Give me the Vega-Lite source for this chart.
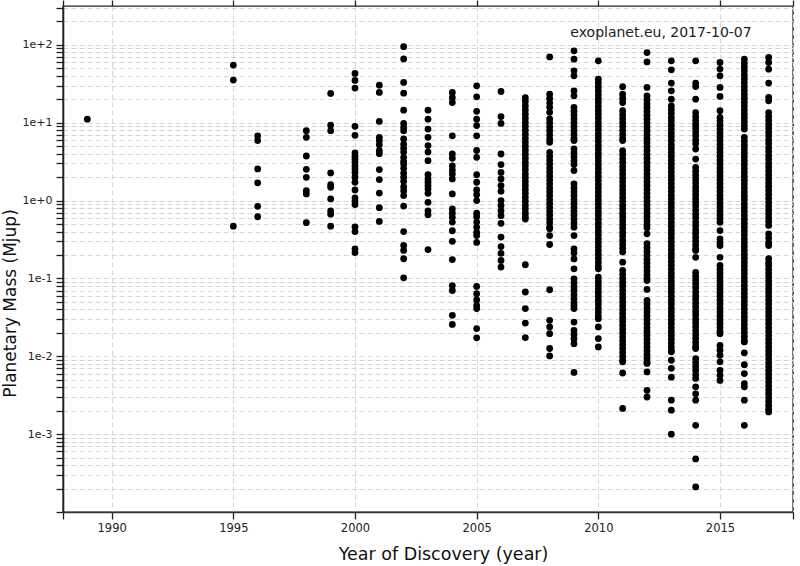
{
"$schema": "https://vega.github.io/schema/vega-lite/v6.json",
"autosize": "none",
"width": 730,
"height": 506,
"padding": {"left": 63, "top": 6, "right": 7, "bottom": 54},
"background": "white",
"config": {
  "font": "DejaVu Sans",
  "view": {"stroke": "#222", "strokeWidth": 1.4},
  "axis": {"labelFont": "DejaVu Sans", "titleFont": "DejaVu Sans", "labelColor": "#222", "titleColor": "#111", "titleFontWeight": "normal"}
},
"datasets": {
"planets": [
{"year":1989,"mass":11.1},
{"year":1995,"mass":55},{"year":1995,"mass":35.3},{"year":1995,"mass":0.47},
{"year":1996,"mass":6.8},{"year":1996,"mass":5.9},{"year":1996,"mass":2.55},{"year":1996,"mass":1.69},{"year":1996,"mass":0.845},{"year":1996,"mass":0.62},
{"year":1998,"mass":7.9},{"year":1998,"mass":6.5},{"year":1998,"mass":3.74},{"year":1998,"mass":2.52},{"year":1998,"mass":1.99},{"year":1998,"mass":1.34},{"year":1998,"mass":1.22},{"year":1998,"mass":0.52},
{"year":1999,"mass":23.8},{"year":1999,"mass":9.3},{"year":1999,"mass":7.9},{"year":1999,"mass":2.27},{"year":1999,"mass":1.6},{"year":1999,"mass":1.48},{"year":1999,"mass":1.05},{"year":1999,"mass":0.74},{"year":1999,"mass":0.67},{"year":1999,"mass":0.47},
{"year":2000,"mass":43},{"year":2000,"mass":35},{"year":2000,"mass":27.9},{"year":2000,"mass":9},{"year":2000,"mass":6.9},{"year":2000,"mass":4.1},{"year":2000,"mass":3.7},{"year":2000,"mass":3.4},{"year":2000,"mass":3.1},{"year":2000,"mass":2.8},{"year":2000,"mass":2.55},{"year":2000,"mass":2.3},{"year":2000,"mass":2.0},{"year":2000,"mass":1.72},{"year":2000,"mass":1.37},{"year":2000,"mass":1.08},{"year":2000,"mass":0.98},{"year":2000,"mass":0.89},{"year":2000,"mass":0.46},{"year":2000,"mass":0.40},{"year":2000,"mass":0.24},{"year":2000,"mass":0.215},
{"year":2001,"mass":30.4},{"year":2001,"mass":24.5},{"year":2001,"mass":10.4},{"year":2001,"mass":6.5},{"year":2001,"mass":5.9},{"year":2001,"mass":5.2},{"year":2001,"mass":4.4},{"year":2001,"mass":4.0},{"year":2001,"mass":2.5},{"year":2001,"mass":1.86},{"year":2001,"mass":1.25},{"year":2001,"mass":0.81},{"year":2001,"mass":0.54},
{"year":2002,"mass":95},{"year":2002,"mass":66},{"year":2002,"mass":33},{"year":2002,"mass":24},{"year":2002,"mass":14.5},{"year":2002,"mass":9.8},{"year":2002,"mass":8.7},{"year":2002,"mass":7.9},{"year":2002,"mass":6.2},{"year":2002,"mass":5.3},{"year":2002,"mass":4.7},{"year":2002,"mass":4.2},{"year":2002,"mass":3.6},{"year":2002,"mass":3.19},{"year":2002,"mass":2.95},{"year":2002,"mass":2.6},{"year":2002,"mass":2.26},{"year":2002,"mass":2.0},{"year":2002,"mass":1.77},{"year":2002,"mass":1.51},{"year":2002,"mass":1.34},{"year":2002,"mass":1.16},{"year":2002,"mass":0.85},{"year":2002,"mass":0.40},{"year":2002,"mass":0.265},{"year":2002,"mass":0.229},{"year":2002,"mass":0.179},{"year":2002,"mass":0.102},
{"year":2003,"mass":14.5},{"year":2003,"mass":11.1},{"year":2003,"mass":8.3},{"year":2003,"mass":6.5},{"year":2003,"mass":5.1},{"year":2003,"mass":4.2},{"year":2003,"mass":3.26},{"year":2003,"mass":2.15},{"year":2003,"mass":1.9},{"year":2003,"mass":1.72},{"year":2003,"mass":1.56},{"year":2003,"mass":1.41},{"year":2003,"mass":1.24},{"year":2003,"mass":0.95},{"year":2003,"mass":0.74},{"year":2003,"mass":0.66},{"year":2003,"mass":0.235},
{"year":2004,"mass":24.5},{"year":2004,"mass":21},{"year":2004,"mass":18.2},{"year":2004,"mass":6.8},{"year":2004,"mass":3.97},{"year":2004,"mass":3.5},{"year":2004,"mass":2.8},{"year":2004,"mass":2.47},{"year":2004,"mass":2.2},{"year":2004,"mass":1.9},{"year":2004,"mass":1.22},{"year":2004,"mass":0.78},{"year":2004,"mass":0.69},{"year":2004,"mass":0.61},{"year":2004,"mass":0.53},{"year":2004,"mass":0.41},{"year":2004,"mass":0.30},{"year":2004,"mass":0.175},{"year":2004,"mass":0.081},{"year":2004,"mass":0.07},{"year":2004,"mass":0.0336},{"year":2004,"mass":0.0257},
{"year":2005,"mass":29.8},{"year":2005,"mass":21.5},{"year":2005,"mass":14},{"year":2005,"mass":11.1},{"year":2005,"mass":9.2},{"year":2005,"mass":6.8},{"year":2005,"mass":4.4},{"year":2005,"mass":3.6},{"year":2005,"mass":2.15},{"year":2005,"mass":1.72},{"year":2005,"mass":1.37},{"year":2005,"mass":1.19},{"year":2005,"mass":1.0},{"year":2005,"mass":0.69},{"year":2005,"mass":0.62},{"year":2005,"mass":0.53},{"year":2005,"mass":0.455},{"year":2005,"mass":0.39},{"year":2005,"mass":0.356},{"year":2005,"mass":0.29},{"year":2005,"mass":0.079},{"year":2005,"mass":0.0636},{"year":2005,"mass":0.053},{"year":2005,"mass":0.045},{"year":2005,"mass":0.041},{"year":2005,"mass":0.0227},{"year":2005,"mass":0.0173},
{"year":2006,"mass":25.2},{"year":2006,"mass":12},{"year":2006,"mass":9.8},{"year":2006,"mass":3.97},{"year":2006,"mass":2.9},{"year":2006,"mass":2.3},{"year":2006,"mass":1.9},{"year":2006,"mass":1.56},{"year":2006,"mass":1.32},{"year":2006,"mass":1.0},{"year":2006,"mass":0.86},{"year":2006,"mass":0.74},{"year":2006,"mass":0.64},{"year":2006,"mass":0.51},{"year":2006,"mass":0.34},{"year":2006,"mass":0.257},{"year":2006,"mass":0.21},{"year":2006,"mass":0.17},{"year":2006,"mass":0.14},
{"year":2007,"mass":21},{"year":2007,"mass":18.8},{"year":2007,"mass":16.5},{"year":2007,"mass":14.6},{"year":2007,"mass":12.9},{"year":2007,"mass":11.4},{"year":2007,"mass":10.1},{"year":2007,"mass":9.0},{"year":2007,"mass":8.0},{"year":2007,"mass":7.1},{"year":2007,"mass":6.3},{"year":2007,"mass":5.6},{"year":2007,"mass":5.0},{"year":2007,"mass":4.45},{"year":2007,"mass":3.95},{"year":2007,"mass":3.5},{"year":2007,"mass":3.1},{"year":2007,"mass":2.8},{"year":2007,"mass":2.5},{"year":2007,"mass":2.2},{"year":2007,"mass":1.97},{"year":2007,"mass":1.75},{"year":2007,"mass":1.56},{"year":2007,"mass":1.39},{"year":2007,"mass":1.24},{"year":2007,"mass":1.1},{"year":2007,"mass":0.98},{"year":2007,"mass":0.87},{"year":2007,"mass":0.78},{"year":2007,"mass":0.69},{"year":2007,"mass":0.62},{"year":2007,"mass":0.58},{"year":2007,"mass":0.15},{"year":2007,"mass":0.067},{"year":2007,"mass":0.041},{"year":2007,"mass":0.0267},{"year":2007,"mass":0.0174},
{"year":2008,"mass":70},{"year":2008,"mass":23.3},{"year":2008,"mass":20.5},{"year":2008,"mass":18},{"year":2008,"mass":15.8},{"year":2008,"mass":13.6},{"year":2008,"mass":11.2},{"year":2008,"mass":10},{"year":2008,"mass":8.9},{"year":2008,"mass":7.9},{"year":2008,"mass":7.0},{"year":2008,"mass":6.2},{"year":2008,"mass":5.6},{"year":2008,"mass":4.17},{"year":2008,"mass":3.7},{"year":2008,"mass":3.3},{"year":2008,"mass":2.95},{"year":2008,"mass":2.62},{"year":2008,"mass":2.33},{"year":2008,"mass":2.07},{"year":2008,"mass":1.84},{"year":2008,"mass":1.64},{"year":2008,"mass":1.46},{"year":2008,"mass":1.3},{"year":2008,"mass":1.16},{"year":2008,"mass":1.03},{"year":2008,"mass":0.92},{"year":2008,"mass":0.82},{"year":2008,"mass":0.73},{"year":2008,"mass":0.65},{"year":2008,"mass":0.58},{"year":2008,"mass":0.52},{"year":2008,"mass":0.455},{"year":2008,"mass":0.434},{"year":2008,"mass":0.355},{"year":2008,"mass":0.273},{"year":2008,"mass":0.0716},{"year":2008,"mass":0.029},{"year":2008,"mass":0.0238},{"year":2008,"mass":0.0195},{"year":2008,"mass":0.0126},{"year":2008,"mass":0.0101},
{"year":2009,"mass":84},{"year":2009,"mass":65.5},{"year":2009,"mass":46.4},{"year":2009,"mass":40.1},{"year":2009,"mass":25.7},{"year":2009,"mass":22.2},{"year":2009,"mass":15.8},{"year":2009,"mass":14.1},{"year":2009,"mass":12.6},{"year":2009,"mass":11.2},{"year":2009,"mass":10},{"year":2009,"mass":8.91},{"year":2009,"mass":7.94},{"year":2009,"mass":7.08},{"year":2009,"mass":6.31},{"year":2009,"mass":5.9},{"year":2009,"mass":4.6},{"year":2009,"mass":4.1},{"year":2009,"mass":3.65},{"year":2009,"mass":3.25},{"year":2009,"mass":2.9},{"year":2009,"mass":2.43},{"year":2009,"mass":1.64},{"year":2009,"mass":1.46},{"year":2009,"mass":1.3},{"year":2009,"mass":1.16},{"year":2009,"mass":1.03},{"year":2009,"mass":0.92},{"year":2009,"mass":0.82},{"year":2009,"mass":0.73},{"year":2009,"mass":0.65},{"year":2009,"mass":0.58},{"year":2009,"mass":0.515},{"year":2009,"mass":0.455},{"year":2009,"mass":0.356},{"year":2009,"mass":0.24},{"year":2009,"mass":0.212},{"year":2009,"mass":0.178},{"year":2009,"mass":0.133},{"year":2009,"mass":0.099},{"year":2009,"mass":0.088},{"year":2009,"mass":0.078},{"year":2009,"mass":0.07},{"year":2009,"mass":0.062},{"year":2009,"mass":0.055},{"year":2009,"mass":0.049},{"year":2009,"mass":0.045},{"year":2009,"mass":0.041},{"year":2009,"mass":0.0275},{"year":2009,"mass":0.0215},{"year":2009,"mass":0.019},{"year":2009,"mass":0.0168},{"year":2009,"mass":0.0145},{"year":2009,"mass":0.0062},
{"year":2010,"mass":62.4},{"year":2010,"mass":36.3},{"year":2010,"mass":32.4},{"year":2010,"mass":28.8},{"year":2010,"mass":25.7},{"year":2010,"mass":22.9},{"year":2010,"mass":20.4},{"year":2010,"mass":18.2},{"year":2010,"mass":16.2},{"year":2010,"mass":14.4},{"year":2010,"mass":12.9},{"year":2010,"mass":11.5},{"year":2010,"mass":10.2},{"year":2010,"mass":9.1},{"year":2010,"mass":8.1},{"year":2010,"mass":7.2},{"year":2010,"mass":6.45},{"year":2010,"mass":5.75},{"year":2010,"mass":5.1},{"year":2010,"mass":4.57},{"year":2010,"mass":4.07},{"year":2010,"mass":3.63},{"year":2010,"mass":3.24},{"year":2010,"mass":2.88},{"year":2010,"mass":2.57},{"year":2010,"mass":2.29},{"year":2010,"mass":2.04},{"year":2010,"mass":1.82},{"year":2010,"mass":1.62},{"year":2010,"mass":1.45},{"year":2010,"mass":1.29},{"year":2010,"mass":1.15},{"year":2010,"mass":1.02},{"year":2010,"mass":0.91},{"year":2010,"mass":0.81},{"year":2010,"mass":0.72},{"year":2010,"mass":0.645},{"year":2010,"mass":0.575},{"year":2010,"mass":0.513},{"year":2010,"mass":0.457},{"year":2010,"mass":0.407},{"year":2010,"mass":0.363},{"year":2010,"mass":0.324},{"year":2010,"mass":0.288},{"year":2010,"mass":0.257},{"year":2010,"mass":0.229},{"year":2010,"mass":0.204},{"year":2010,"mass":0.182},{"year":2010,"mass":0.162},{"year":2010,"mass":0.144},{"year":2010,"mass":0.133},{"year":2010,"mass":0.104},{"year":2010,"mass":0.093},{"year":2010,"mass":0.083},{"year":2010,"mass":0.074},{"year":2010,"mass":0.066},{"year":2010,"mass":0.059},{"year":2010,"mass":0.0525},{"year":2010,"mass":0.0468},{"year":2010,"mass":0.0417},{"year":2010,"mass":0.0372},{"year":2010,"mass":0.0331},{"year":2010,"mass":0.0304},{"year":2010,"mass":0.0238},{"year":2010,"mass":0.0169},{"year":2010,"mass":0.0132},
{"year":2011,"mass":29.1},{"year":2011,"mass":23.3},{"year":2011,"mass":20.5},{"year":2011,"mass":18.2},{"year":2011,"mass":14.3},{"year":2011,"mass":12.7},{"year":2011,"mass":11.3},{"year":2011,"mass":10.1},{"year":2011,"mass":9.0},{"year":2011,"mass":8.0},{"year":2011,"mass":7.1},{"year":2011,"mass":6.35},{"year":2011,"mass":5.9},{"year":2011,"mass":4.37},{"year":2011,"mass":3.9},{"year":2011,"mass":3.47},{"year":2011,"mass":3.1},{"year":2011,"mass":2.76},{"year":2011,"mass":2.46},{"year":2011,"mass":2.19},{"year":2011,"mass":1.95},{"year":2011,"mass":1.74},{"year":2011,"mass":1.55},{"year":2011,"mass":1.38},{"year":2011,"mass":1.23},{"year":2011,"mass":1.1},{"year":2011,"mass":0.98},{"year":2011,"mass":0.87},{"year":2011,"mass":0.78},{"year":2011,"mass":0.69},{"year":2011,"mass":0.62},{"year":2011,"mass":0.55},{"year":2011,"mass":0.49},{"year":2011,"mass":0.44},{"year":2011,"mass":0.39},{"year":2011,"mass":0.35},{"year":2011,"mass":0.31},{"year":2011,"mass":0.275},{"year":2011,"mass":0.245},{"year":2011,"mass":0.218},{"year":2011,"mass":0.162},{"year":2011,"mass":0.127},{"year":2011,"mass":0.113},{"year":2011,"mass":0.1},{"year":2011,"mass":0.089},{"year":2011,"mass":0.08},{"year":2011,"mass":0.071},{"year":2011,"mass":0.063},{"year":2011,"mass":0.056},{"year":2011,"mass":0.05},{"year":2011,"mass":0.0447},{"year":2011,"mass":0.0398},{"year":2011,"mass":0.0355},{"year":2011,"mass":0.0316},{"year":2011,"mass":0.0282},{"year":2011,"mass":0.0251},{"year":2011,"mass":0.0224},{"year":2011,"mass":0.02},{"year":2011,"mass":0.0178},{"year":2011,"mass":0.0158},{"year":2011,"mass":0.0141},{"year":2011,"mass":0.0126},{"year":2011,"mass":0.0112},{"year":2011,"mass":0.01},{"year":2011,"mass":0.0089},{"year":2011,"mass":0.0085},{"year":2011,"mass":0.0061},{"year":2011,"mass":0.00214},
{"year":2012,"mass":79.8},{"year":2012,"mass":60.5},{"year":2012,"mass":28.4},{"year":2012,"mass":22.2},{"year":2012,"mass":19.8},{"year":2012,"mass":17.6},{"year":2012,"mass":15.7},{"year":2012,"mass":14},{"year":2012,"mass":12.5},{"year":2012,"mass":11.1},{"year":2012,"mass":9.9},{"year":2012,"mass":8.8},{"year":2012,"mass":7.85},{"year":2012,"mass":7.0},{"year":2012,"mass":6.25},{"year":2012,"mass":5.55},{"year":2012,"mass":4.95},{"year":2012,"mass":4.4},{"year":2012,"mass":3.93},{"year":2012,"mass":3.5},{"year":2012,"mass":3.12},{"year":2012,"mass":2.78},{"year":2012,"mass":2.48},{"year":2012,"mass":2.21},{"year":2012,"mass":1.97},{"year":2012,"mass":1.75},{"year":2012,"mass":1.56},{"year":2012,"mass":1.39},{"year":2012,"mass":1.24},{"year":2012,"mass":1.1},{"year":2012,"mass":0.98},{"year":2012,"mass":0.875},{"year":2012,"mass":0.78},{"year":2012,"mass":0.695},{"year":2012,"mass":0.62},{"year":2012,"mass":0.55},{"year":2012,"mass":0.49},{"year":2012,"mass":0.447},{"year":2012,"mass":0.374},{"year":2012,"mass":0.279},{"year":2012,"mass":0.249},{"year":2012,"mass":0.222},{"year":2012,"mass":0.198},{"year":2012,"mass":0.176},{"year":2012,"mass":0.157},{"year":2012,"mass":0.14},{"year":2012,"mass":0.125},{"year":2012,"mass":0.111},{"year":2012,"mass":0.1},{"year":2012,"mass":0.094},{"year":2012,"mass":0.0723},{"year":2012,"mass":0.0522},{"year":2012,"mass":0.0468},{"year":2012,"mass":0.0417},{"year":2012,"mass":0.0372},{"year":2012,"mass":0.0331},{"year":2012,"mass":0.0295},{"year":2012,"mass":0.0263},{"year":2012,"mass":0.0234},{"year":2012,"mass":0.0209},{"year":2012,"mass":0.0186},{"year":2012,"mass":0.0166},{"year":2012,"mass":0.0148},{"year":2012,"mass":0.0132},{"year":2012,"mass":0.0118},{"year":2012,"mass":0.0105},{"year":2012,"mass":0.0094},{"year":2012,"mass":0.0084},{"year":2012,"mass":0.0081},{"year":2012,"mass":0.0063},{"year":2012,"mass":0.00366},{"year":2012,"mass":0.003},
{"year":2013,"mass":62.4},{"year":2013,"mass":47.8},{"year":2013,"mass":32.3},{"year":2013,"mass":25.7},{"year":2013,"mass":20.1},{"year":2013,"mass":16.5},{"year":2013,"mass":14.8},{"year":2013,"mass":13.2},{"year":2013,"mass":11.7},{"year":2013,"mass":10.5},{"year":2013,"mass":9.3},{"year":2013,"mass":8.3},{"year":2013,"mass":7.4},{"year":2013,"mass":6.6},{"year":2013,"mass":5.9},{"year":2013,"mass":5.25},{"year":2013,"mass":4.68},{"year":2013,"mass":4.17},{"year":2013,"mass":3.72},{"year":2013,"mass":3.31},{"year":2013,"mass":2.95},{"year":2013,"mass":2.63},{"year":2013,"mass":2.34},{"year":2013,"mass":2.09},{"year":2013,"mass":1.86},{"year":2013,"mass":1.66},{"year":2013,"mass":1.48},{"year":2013,"mass":1.32},{"year":2013,"mass":1.17},{"year":2013,"mass":1.05},{"year":2013,"mass":0.93},{"year":2013,"mass":0.83},{"year":2013,"mass":0.74},{"year":2013,"mass":0.66},{"year":2013,"mass":0.59},{"year":2013,"mass":0.525},{"year":2013,"mass":0.468},{"year":2013,"mass":0.417},{"year":2013,"mass":0.372},{"year":2013,"mass":0.331},{"year":2013,"mass":0.295},{"year":2013,"mass":0.263},{"year":2013,"mass":0.234},{"year":2013,"mass":0.209},{"year":2013,"mass":0.186},{"year":2013,"mass":0.166},{"year":2013,"mass":0.148},{"year":2013,"mass":0.132},{"year":2013,"mass":0.117},{"year":2013,"mass":0.105},{"year":2013,"mass":0.093},{"year":2013,"mass":0.083},{"year":2013,"mass":0.074},{"year":2013,"mass":0.066},{"year":2013,"mass":0.059},{"year":2013,"mass":0.0525},{"year":2013,"mass":0.0468},{"year":2013,"mass":0.0417},{"year":2013,"mass":0.0372},{"year":2013,"mass":0.0331},{"year":2013,"mass":0.0295},{"year":2013,"mass":0.0263},{"year":2013,"mass":0.0234},{"year":2013,"mass":0.0209},{"year":2013,"mass":0.0186},{"year":2013,"mass":0.0166},{"year":2013,"mass":0.0148},{"year":2013,"mass":0.0132},{"year":2013,"mass":0.0117},{"year":2013,"mass":0.0114},{"year":2013,"mass":0.0089},{"year":2013,"mass":0.007},{"year":2013,"mass":0.0054},{"year":2013,"mass":0.00273},{"year":2013,"mass":0.00203},{"year":2013,"mass":0.001},
{"year":2014,"mass":62.4},{"year":2014,"mass":32.3},{"year":2014,"mass":29.2},{"year":2014,"mass":20.1},{"year":2014,"mass":13.5},{"year":2014,"mass":12},{"year":2014,"mass":10.7},{"year":2014,"mass":9.5},{"year":2014,"mass":8.5},{"year":2014,"mass":7.6},{"year":2014,"mass":6.8},{"year":2014,"mass":6.0},{"year":2014,"mass":5.4},{"year":2014,"mass":4.6},{"year":2014,"mass":3.42},{"year":2014,"mass":2.67},{"year":2014,"mass":2.38},{"year":2014,"mass":2.12},{"year":2014,"mass":1.89},{"year":2014,"mass":1.69},{"year":2014,"mass":1.5},{"year":2014,"mass":1.34},{"year":2014,"mass":1.19},{"year":2014,"mass":1.06},{"year":2014,"mass":0.95},{"year":2014,"mass":0.85},{"year":2014,"mass":0.75},{"year":2014,"mass":0.67},{"year":2014,"mass":0.6},{"year":2014,"mass":0.53},{"year":2014,"mass":0.475},{"year":2014,"mass":0.42},{"year":2014,"mass":0.378},{"year":2014,"mass":0.337},{"year":2014,"mass":0.3},{"year":2014,"mass":0.268},{"year":2014,"mass":0.239},{"year":2014,"mass":0.229},{"year":2014,"mass":0.187},{"year":2014,"mass":0.12},{"year":2014,"mass":0.107},{"year":2014,"mass":0.095},{"year":2014,"mass":0.085},{"year":2014,"mass":0.076},{"year":2014,"mass":0.067},{"year":2014,"mass":0.06},{"year":2014,"mass":0.054},{"year":2014,"mass":0.048},{"year":2014,"mass":0.043},{"year":2014,"mass":0.038},{"year":2014,"mass":0.034},{"year":2014,"mass":0.03},{"year":2014,"mass":0.027},{"year":2014,"mass":0.024},{"year":2014,"mass":0.0214},{"year":2014,"mass":0.019},{"year":2014,"mass":0.017},{"year":2014,"mass":0.0151},{"year":2014,"mass":0.0135},{"year":2014,"mass":0.0126},{"year":2014,"mass":0.0093},{"year":2014,"mass":0.0083},{"year":2014,"mass":0.0074},{"year":2014,"mass":0.0066},{"year":2014,"mass":0.0058},{"year":2014,"mass":0.0052},{"year":2014,"mass":0.00405},{"year":2014,"mass":0.0033},{"year":2014,"mass":0.00273},{"year":2014,"mass":0.0013},{"year":2014,"mass":0.00048},{"year":2014,"mass":0.00021},
{"year":2015,"mass":59.4},{"year":2015,"mass":49},{"year":2015,"mass":40.1},{"year":2015,"mass":28.4},{"year":2015,"mass":21.8},{"year":2015,"mass":14.3},{"year":2015,"mass":11.7},{"year":2015,"mass":10.5},{"year":2015,"mass":9.3},{"year":2015,"mass":8.3},{"year":2015,"mass":7.4},{"year":2015,"mass":6.6},{"year":2015,"mass":5.9},{"year":2015,"mass":5.25},{"year":2015,"mass":4.68},{"year":2015,"mass":4.17},{"year":2015,"mass":3.72},{"year":2015,"mass":3.31},{"year":2015,"mass":2.95},{"year":2015,"mass":2.63},{"year":2015,"mass":2.34},{"year":2015,"mass":2.09},{"year":2015,"mass":1.86},{"year":2015,"mass":1.66},{"year":2015,"mass":1.48},{"year":2015,"mass":1.32},{"year":2015,"mass":1.17},{"year":2015,"mass":1.05},{"year":2015,"mass":0.93},{"year":2015,"mass":0.83},{"year":2015,"mass":0.74},{"year":2015,"mass":0.66},{"year":2015,"mass":0.59},{"year":2015,"mass":0.527},{"year":2015,"mass":0.412},{"year":2015,"mass":0.323},{"year":2015,"mass":0.29},{"year":2015,"mass":0.265},{"year":2015,"mass":0.187},{"year":2015,"mass":0.147},{"year":2015,"mass":0.131},{"year":2015,"mass":0.117},{"year":2015,"mass":0.104},{"year":2015,"mass":0.093},{"year":2015,"mass":0.083},{"year":2015,"mass":0.074},{"year":2015,"mass":0.066},{"year":2015,"mass":0.059},{"year":2015,"mass":0.0525},{"year":2015,"mass":0.0468},{"year":2015,"mass":0.0417},{"year":2015,"mass":0.0372},{"year":2015,"mass":0.0331},{"year":2015,"mass":0.0295},{"year":2015,"mass":0.0263},{"year":2015,"mass":0.0234},{"year":2015,"mass":0.0209},{"year":2015,"mass":0.0195},{"year":2015,"mass":0.0138},{"year":2015,"mass":0.012},{"year":2015,"mass":0.0103},{"year":2015,"mass":0.0085},{"year":2015,"mass":0.0066},{"year":2015,"mass":0.0057},{"year":2015,"mass":0.0049},
{"year":2016,"mass":65.5},{"year":2016,"mass":58.4},{"year":2016,"mass":52},{"year":2016,"mass":46.4},{"year":2016,"mass":41.3},{"year":2016,"mass":36.8},{"year":2016,"mass":32.8},{"year":2016,"mass":29.2},{"year":2016,"mass":26},{"year":2016,"mass":23.2},{"year":2016,"mass":20.7},{"year":2016,"mass":18.4},{"year":2016,"mass":16.4},{"year":2016,"mass":14.6},{"year":2016,"mass":13},{"year":2016,"mass":11.6},{"year":2016,"mass":10.3},{"year":2016,"mass":9.2},{"year":2016,"mass":8.3},{"year":2016,"mass":6.5},{"year":2016,"mass":5.8},{"year":2016,"mass":5.15},{"year":2016,"mass":4.6},{"year":2016,"mass":4.1},{"year":2016,"mass":3.65},{"year":2016,"mass":3.25},{"year":2016,"mass":2.9},{"year":2016,"mass":2.58},{"year":2016,"mass":2.3},{"year":2016,"mass":2.05},{"year":2016,"mass":1.83},{"year":2016,"mass":1.63},{"year":2016,"mass":1.45},{"year":2016,"mass":1.29},{"year":2016,"mass":1.15},{"year":2016,"mass":1.03},{"year":2016,"mass":0.91},{"year":2016,"mass":0.815},{"year":2016,"mass":0.725},{"year":2016,"mass":0.645},{"year":2016,"mass":0.575},{"year":2016,"mass":0.513},{"year":2016,"mass":0.457},{"year":2016,"mass":0.407},{"year":2016,"mass":0.363},{"year":2016,"mass":0.323},{"year":2016,"mass":0.288},{"year":2016,"mass":0.257},{"year":2016,"mass":0.229},{"year":2016,"mass":0.204},{"year":2016,"mass":0.182},{"year":2016,"mass":0.162},{"year":2016,"mass":0.144},{"year":2016,"mass":0.129},{"year":2016,"mass":0.115},{"year":2016,"mass":0.102},{"year":2016,"mass":0.091},{"year":2016,"mass":0.081},{"year":2016,"mass":0.0723},{"year":2016,"mass":0.0644},{"year":2016,"mass":0.0574},{"year":2016,"mass":0.0512},{"year":2016,"mass":0.0456},{"year":2016,"mass":0.0406},{"year":2016,"mass":0.0362},{"year":2016,"mass":0.0323},{"year":2016,"mass":0.0287},{"year":2016,"mass":0.0256},{"year":2016,"mass":0.0228},{"year":2016,"mass":0.0203},{"year":2016,"mass":0.0181},{"year":2016,"mass":0.0161},{"year":2016,"mass":0.0153},{"year":2016,"mass":0.0111},{"year":2016,"mass":0.0078},{"year":2016,"mass":0.006},{"year":2016,"mass":0.00447},{"year":2016,"mass":0.00405},{"year":2016,"mass":0.00273},{"year":2016,"mass":0.0013},
{"year":2017,"mass":68.9},{"year":2017,"mass":59.4},{"year":2017,"mass":48.8},{"year":2017,"mass":32.3},{"year":2017,"mass":21.1},{"year":2017,"mass":19.1},{"year":2017,"mass":13.5},{"year":2017,"mass":12},{"year":2017,"mass":10.7},{"year":2017,"mass":9.5},{"year":2017,"mass":8.5},{"year":2017,"mass":7.6},{"year":2017,"mass":6.8},{"year":2017,"mass":6.0},{"year":2017,"mass":5.4},{"year":2017,"mass":4.8},{"year":2017,"mass":4.3},{"year":2017,"mass":3.8},{"year":2017,"mass":3.4},{"year":2017,"mass":3.0},{"year":2017,"mass":2.7},{"year":2017,"mass":2.4},{"year":2017,"mass":2.14},{"year":2017,"mass":1.91},{"year":2017,"mass":1.7},{"year":2017,"mass":1.52},{"year":2017,"mass":1.35},{"year":2017,"mass":1.2},{"year":2017,"mass":1.07},{"year":2017,"mass":0.95},{"year":2017,"mass":0.85},{"year":2017,"mass":0.76},{"year":2017,"mass":0.68},{"year":2017,"mass":0.6},{"year":2017,"mass":0.54},{"year":2017,"mass":0.48},{"year":2017,"mass":0.374},{"year":2017,"mass":0.33},{"year":2017,"mass":0.29},{"year":2017,"mass":0.265},{"year":2017,"mass":0.179},{"year":2017,"mass":0.16},{"year":2017,"mass":0.147},{"year":2017,"mass":0.131},{"year":2017,"mass":0.117},{"year":2017,"mass":0.104},{"year":2017,"mass":0.093},{"year":2017,"mass":0.083},{"year":2017,"mass":0.074},{"year":2017,"mass":0.066},{"year":2017,"mass":0.059},{"year":2017,"mass":0.0525},{"year":2017,"mass":0.0468},{"year":2017,"mass":0.0417},{"year":2017,"mass":0.0372},{"year":2017,"mass":0.0331},{"year":2017,"mass":0.0295},{"year":2017,"mass":0.0263},{"year":2017,"mass":0.0234},{"year":2017,"mass":0.0209},{"year":2017,"mass":0.0186},{"year":2017,"mass":0.0166},{"year":2017,"mass":0.0148},{"year":2017,"mass":0.0132},{"year":2017,"mass":0.0117},{"year":2017,"mass":0.0105},{"year":2017,"mass":0.0093},{"year":2017,"mass":0.0083},{"year":2017,"mass":0.0074},{"year":2017,"mass":0.0066},{"year":2017,"mass":0.0059},{"year":2017,"mass":0.00525},{"year":2017,"mass":0.00468},{"year":2017,"mass":0.00417},{"year":2017,"mass":0.00372},{"year":2017,"mass":0.00331},{"year":2017,"mass":0.00295},{"year":2017,"mass":0.00263},{"year":2017,"mass":0.00234},{"year":2017,"mass":0.00209},{"year":2017,"mass":0.00193}
],
"note": [{"year": 2008.85, "mass": 142, "label": "exoplanet.eu, 2017-10-07"}]
},
"layer": [
{
  "data": {"name": "planets"},
  "mark": {"type": "circle", "size": 46, "color": "#000", "opacity": 1},
  "encoding": {
    "x": {"field": "year", "type": "quantitative",
      "scale": {"domain": [1988, 2018], "nice": false, "zero": false},
      "axis": {"orient": "bottom", "title": "Year of Discovery (year)", "titleFontSize": 17.5, "titlePadding": 12, "titleX": 380,
        "values": [1988, 1990, 1995, 2000, 2005, 2010, 2015, 2018],
        "labelExpr": "datum.value % 5 === 0 ? '' + datum.value : ''",
        "labelFontSize": 11.5, "labelPadding": 3, "labelFlush": false,
        "tickSize": 7, "tickColor": "#222", "tickWidth": 1.3,
        "domainColor": "#333", "domainWidth": 1.6,
        "grid": true, "gridColor": "#d6d6d6", "gridDash": [5, 3], "gridWidth": 1}},
    "y": {"field": "mass", "type": "quantitative",
      "scale": {"type": "log", "domain": [0.0001, 316], "nice": false},
      "axis": {"orient": "left", "title": "Planetary Mass (Mjup)", "titleFontSize": 17, "titlePadding": 3, "titleY": 297,
        "values": [0.0001,0.0002,0.0003,0.0004,0.0005,0.0006,0.0007,0.0008,0.0009,0.001,0.002,0.003,0.004,0.005,0.006,0.007,0.008,0.009,0.01,0.02,0.03,0.04,0.05,0.06,0.07,0.08,0.09,0.1,0.2,0.3,0.4,0.5,0.6,0.7,0.8,0.9,1,2,3,4,5,6,7,8,9,10,20,30,40,50,60,70,80,90,100,200,300],
        "labelExpr": "(datum.value > 0.0005 && abs(log(datum.value)/LN10 - round(log(datum.value)/LN10)) < 0.001) ? ('1e' + (datum.value >= 1 ? '+' : '') + round(log(datum.value)/LN10)) : ''",
        "labelFontSize": 11, "labelPadding": 4, "labelFlush": false,
        "tickSize": 7, "tickColor": "#222", "tickWidth": 1.3,
        "domainColor": "#222", "domainWidth": 1.6,
        "grid": true, "gridColor": "#d6d6d6", "gridDash": [5, 3], "gridWidth": 1}}
  }
},
{
  "data": {"name": "note"},
  "mark": {"type": "text", "align": "left", "baseline": "middle", "fontSize": 14, "font": "DejaVu Sans", "color": "#222"},
  "encoding": {
    "x": {"field": "year", "type": "quantitative",
      "scale": {"domain": [1988, 2018], "nice": false, "zero": false},
      "axis": {"orient": "top", "title": null, "labels": false, "domain": false, "grid": false,
        "values": [1988, 1990, 1995, 2000, 2005, 2010, 2015, 2018],
        "tickSize": 6, "tickColor": "#222", "tickWidth": 1.3}},
    "y": {"field": "mass", "type": "quantitative",
      "scale": {"type": "log", "domain": [0.0001, 316], "nice": false}},
    "text": {"field": "label"}
  }
}
],
"resolve": {"axis": {"x": "independent"}}
}
